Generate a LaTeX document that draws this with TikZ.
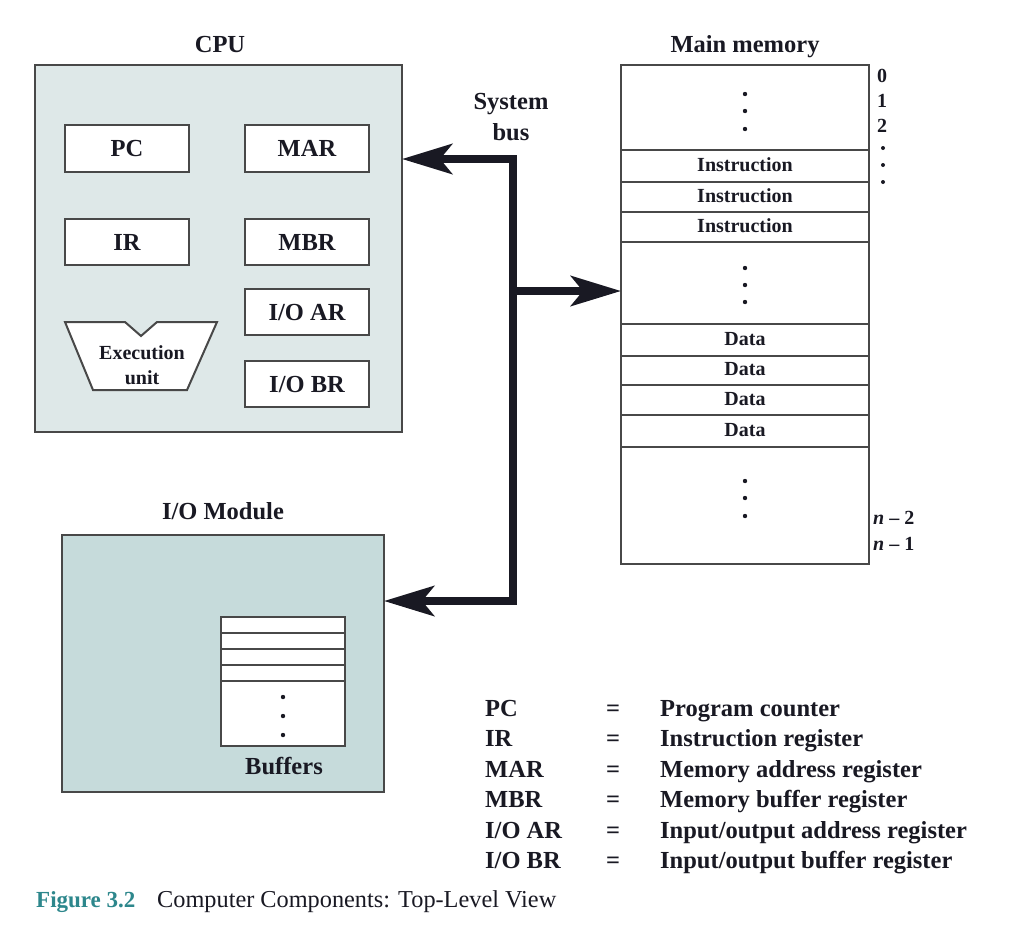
\documentclass[tikz,border=0pt]{standalone}
\usepackage{fontspec}
\setmainfont{Liberation Serif}
\usetikzlibrary{arrows.meta}
\definecolor{cpufill}{RGB}{222,232,232}
\definecolor{iofill}{RGB}{198,219,219}
\definecolor{edge}{RGB}{72,72,72}
\definecolor{ink}{RGB}{25,25,35}
\definecolor{figteal}{RGB}{45,135,140}
\begin{document}
\begin{tikzpicture}[x=1pt,y=-1pt,
  big/.style={font=\fontsize{24.5}{28}\selectfont\bfseries, text=ink, inner sep=0pt},
  small/.style={font=\fontsize{20}{25}\selectfont\bfseries, text=ink, inner sep=0pt},
  reg/.style={big, draw=edge, line width=2pt, fill=white, minimum width=124pt, minimum height=47pt, text depth=0pt},
  panel/.style={draw=edge, line width=2.2pt, inner sep=0pt, outer sep=0pt},
  cell/.style={draw=edge, line width=1.8pt},
  bus/.style={line width=8pt, draw=ink, line join=miter, >={Stealth[length=50pt, width=30pt, inset=12pt]}},
  dot/.style={fill=ink},
]
\path[fill=white] (0,0) rectangle (1015,943);
\useasboundingbox (0,0) rectangle (1015,943);

% ---------- CPU ----------
\node[big, anchor=base] (cputitle) at (220,52) {CPU};
\node[panel, fill=cpufill, minimum width=367pt, minimum height=367pt] (cpu) at (218.5,248.5) {};
\node[reg] (pc)   at (127,148.5) {PC};
\node[reg] (mar)  at (307,148.5) {MAR};
\node[reg, minimum height=46pt] (ir)   at (127,242) {IR};
\node[reg, minimum height=46pt] (mbr)  at (307,242) {MBR};
\node[reg, minimum height=46pt] (ioar) at (307,312) {I/O AR};
\node[reg, minimum height=46pt] (iobr) at (307,384) {I/O BR};
\draw[draw=edge, line width=2pt, fill=white, line join=miter]
  (65,322) -- (125,322) -- (141,336) -- (157,322) -- (217,322) -- (187,390) -- (93,390) -- cycle;
\node[small, align=center, text depth=0pt] (exec) at (142,365) {Execution\\unit};

% ---------- Main memory ----------
\node[big, anchor=base] (memtitle) at (745,52) {Main memory};
\node[panel, fill=white, minimum width=248pt, minimum height=499pt] (mem) at (745,314.5) {};
\foreach \yy in {150,182,212,242,324,356,385,415,447}
  \draw[cell] (mem.west |- 0,\yy) -- (mem.east |- 0,\yy);
\foreach \yy in {94,111,129,268,285,302,481,498,516}
  \fill[dot] (745,\yy) circle (2.2);
\node[small] (i1) at (745,165) {Instruction};
\node[small] (i2) at (745,196) {Instruction};
\node[small] (i3) at (745,226) {Instruction};
\node[small] (d1) at (745,339) {Data};
\node[small] (d2) at (745,369) {Data};
\node[small] (d3) at (745,399) {Data};
\node[small] (d4) at (745,430) {Data};
\node[small] (a0) at (882,76) {0};
\node[small] (a1) at (882,101) {1};
\node[small] (a2) at (882,126) {2};
\foreach \yy in {148,165,182}
  \fill[dot] (883,\yy) circle (2.0);
\node[small, anchor=west] (an2) at (873,518) {\textit{n} – 2};
\node[small, anchor=west] (an1) at (873,544) {\textit{n} – 1};

% ---------- I/O module ----------
\node[big, anchor=base] (iotitle) at (223,519) {I/O Module};
\node[panel, fill=iofill, minimum width=322pt, minimum height=257pt] (io) at (223,663.5) {};
\node[draw=edge, line width=2pt, fill=white, minimum width=124pt, minimum height=129pt, inner sep=0pt] (buf) at (283,681.5) {};
\foreach \yy in {633,649,665,681}
  \draw[cell] (buf.west |- 0,\yy) -- (buf.east |- 0,\yy);
\foreach \yy in {697,716,735}
  \fill[dot] (283,\yy) circle (2.2);
\node[big, anchor=base] (buflabel) at (284,774) {Buffers};

% ---------- System bus ----------
\node[big, anchor=base] (sys1) at (511,109) {System};
\node[big, anchor=base] (sys2) at (511,140) {bus};
\coordinate (btop) at (513,159);
\coordinate (bmid) at (513,291);
\coordinate (bbot) at (513,601);
\draw[bus, <->] (cpu.east |- btop) -- (btop) -- (bbot) -- (io.east |- bbot);
\draw[bus, ->] (bmid) -- (mem.west |- bmid);

% ---------- Legend ----------
\foreach \ab/\eq/\txt/\yy [count=\k] in
  {PC/=/Program counter/716,
   IR/=/Instruction register/746.5,
   MAR/=/Memory address register/777,
   MBR/=/Memory buffer register/807,
   I\slash O AR/=/Input\slash output address register/838,
   I\slash O BR/=/Input\slash output buffer register/868}{
  \node[big, anchor=base west] (lk\k) at (485,\yy) {\ab};
  \node[big, anchor=base] (le\k) at (613,\yy) {\eq};
  \node[big, anchor=base west] (lv\k) at (660,\yy) {\txt};
}

% ---------- Caption ----------
\node[font=\fontsize{23}{26}\selectfont\bfseries, text=figteal, inner sep=0pt, anchor=base west] (fig) at (36,907) {Figure 3.2};
\node[font=\fontsize{24.3}{28}\selectfont, text=ink, inner sep=0pt, anchor=base west] (cap) at (157,907) {Computer Components: Top-Level View};
\end{tikzpicture}
\end{document}
